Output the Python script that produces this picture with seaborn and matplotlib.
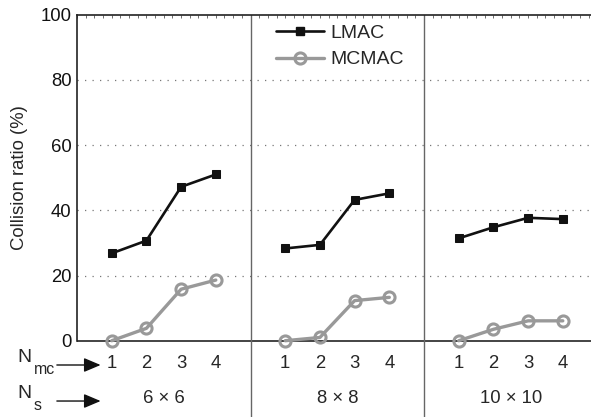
import numpy as np
import pandas as pd
import matplotlib
matplotlib.use("Agg")
import matplotlib.pyplot as plt
import seaborn as sns
from matplotlib.lines import Line2D

# Collision ratio (%) per channel count N_mc, for each grid size N_s
grid_sizes = ["6 \u00d7 6", "8 \u00d7 8", "10 \u00d7 10"]
n_mc = [1, 2, 3, 4]
lmac = [
    [26.8, 30.7, 47.2, 51.0],
    [28.3, 29.4, 43.2, 45.2],
    [31.4, 34.8, 37.7, 37.3],
]
mcmac = [
    [0.0, 3.8, 15.8, 18.6],
    [0.0, 1.0, 12.3, 13.3],
    [0.0, 3.5, 6.1, 6.1],
]
y_ticks = [0, 20, 40, 60, 80, 100]

sns.set_theme(style="white")
plt.rcParams["font.family"] = ["Liberation Sans", "DejaVu Sans"]
FS = 13.3

rows = []
for g, name in enumerate(grid_sizes):
    for i, n in enumerate(n_mc):
        xpos = g * 5 + n
        rows.append(dict(x=xpos, value=lmac[g][i], method="LMAC", group=name))
        rows.append(dict(x=xpos, value=mcmac[g][i], method="MCMAC", group=name))
df = pd.DataFrame(rows)

W, H = 591, 417
fig = plt.figure(figsize=(W / 100, H / 100), dpi=100)
ax = fig.add_axes([77 / W, 0.0, 520.5 / W, 402.3 / H])

styles = {
    "LMAC": dict(color="#111111", lw=1.9, marker="s", markersize=5.5,
                 markerfacecolor="#111111", markeredgecolor="#111111"),
    "MCMAC": dict(color="#999999", lw=2.4, marker="o", markersize=8,
                  markerfacecolor="none", markeredgecolor="#999999",
                  markeredgewidth=2.2),
}
for method in ["MCMAC", "LMAC"]:
    for name in grid_sizes:
        sub = df[(df.method == method) & (df.group == name)]
        sns.lineplot(data=sub, x="x", y="value", ax=ax, estimator=None,
                     legend=False, zorder=3, **styles[method])

ax.set_xlim(0, 15)
ax.set_ylim(-23.4, 100)

# dotted gridlines, zero line and group separators
for yv in y_ticks[1:-1]:
    ax.axhline(yv, color="#777777", lw=0.9, ls=(0, (1, 5)), zorder=1)
ax.axhline(0, color="#111111", lw=1.1, zorder=2)
for xv in [5, 10]:
    ax.axvline(xv, color="#666666", lw=1.0, zorder=2)

for side in ["bottom", "right"]:
    ax.spines[side].set_visible(False)
ax.spines["left"].set_bounds(0, 100)
for side in ["left", "top"]:
    ax.spines[side].set_color("#222222")
    ax.spines[side].set_linewidth(1.2)

ax.set_yticks(y_ticks)
ax.set_yticklabels([str(v) for v in y_ticks], fontsize=FS)
ax.tick_params(axis="y", direction="in", length=0, pad=4, colors="#111111")
ax.set_xticks([])
ax.set_xticks(np.arange(0, 15.01, 0.25), minor=True)
ax.tick_params(axis="x", which="both", bottom=False, top=True,
               direction="in", length=2.5, width=0.6, color="#555555",
               labelbottom=False)
ax.set_xlabel("")
ax.set_ylabel("Collision ratio (%)", fontsize=FS)
ax.yaxis.set_label_coords(-0.094, 23.4 / 123.4 + 0.5 * 100 / 123.4)

# N_mc values and N_s grid sizes under each group
for g, name in enumerate(grid_sizes):
    for n in n_mc:
        ax.text(g * 5 + n, -7.0, str(n), ha="center", va="center", fontsize=FS)
    ax.text(g * 5 + 2.5, -17.7, name, ha="center", va="center", fontsize=FS)

# row captions with subscripts
fig.text(17 / W, 1 - 358 / H, "N", ha="left", va="center", fontsize=14)
fig.text(34 / W, 1 - 369.5 / H, "mc", ha="left", va="center", fontsize=11.5)
fig.text(17 / W, 1 - 393 / H, "N", ha="left", va="center", fontsize=14)
fig.text(34 / W, 1 - 405.5 / H, "s", ha="left", va="center", fontsize=11.5)
for yv in [-7.45, -18.5]:
    ax.annotate("", xy=(0.68, yv), xytext=(-0.58, yv),
                arrowprops=dict(arrowstyle="-|>,head_length=0.85,head_width=0.36",
                                color="#111111", lw=1.0, shrinkA=0, shrinkB=0),
                annotation_clip=False)

# legend
handles = [Line2D([], [], **styles["LMAC"]), Line2D([], [], **styles["MCMAC"])]
ax.legend(handles, ["LMAC", "MCMAC"], loc="upper left",
          bbox_to_anchor=(5.5 / 15, 0.995), frameon=False, fontsize=14,
          handlelength=2.5, handletextpad=0.3, labelspacing=0.45,
          borderaxespad=0)

fig.savefig("out.png", dpi=100)
